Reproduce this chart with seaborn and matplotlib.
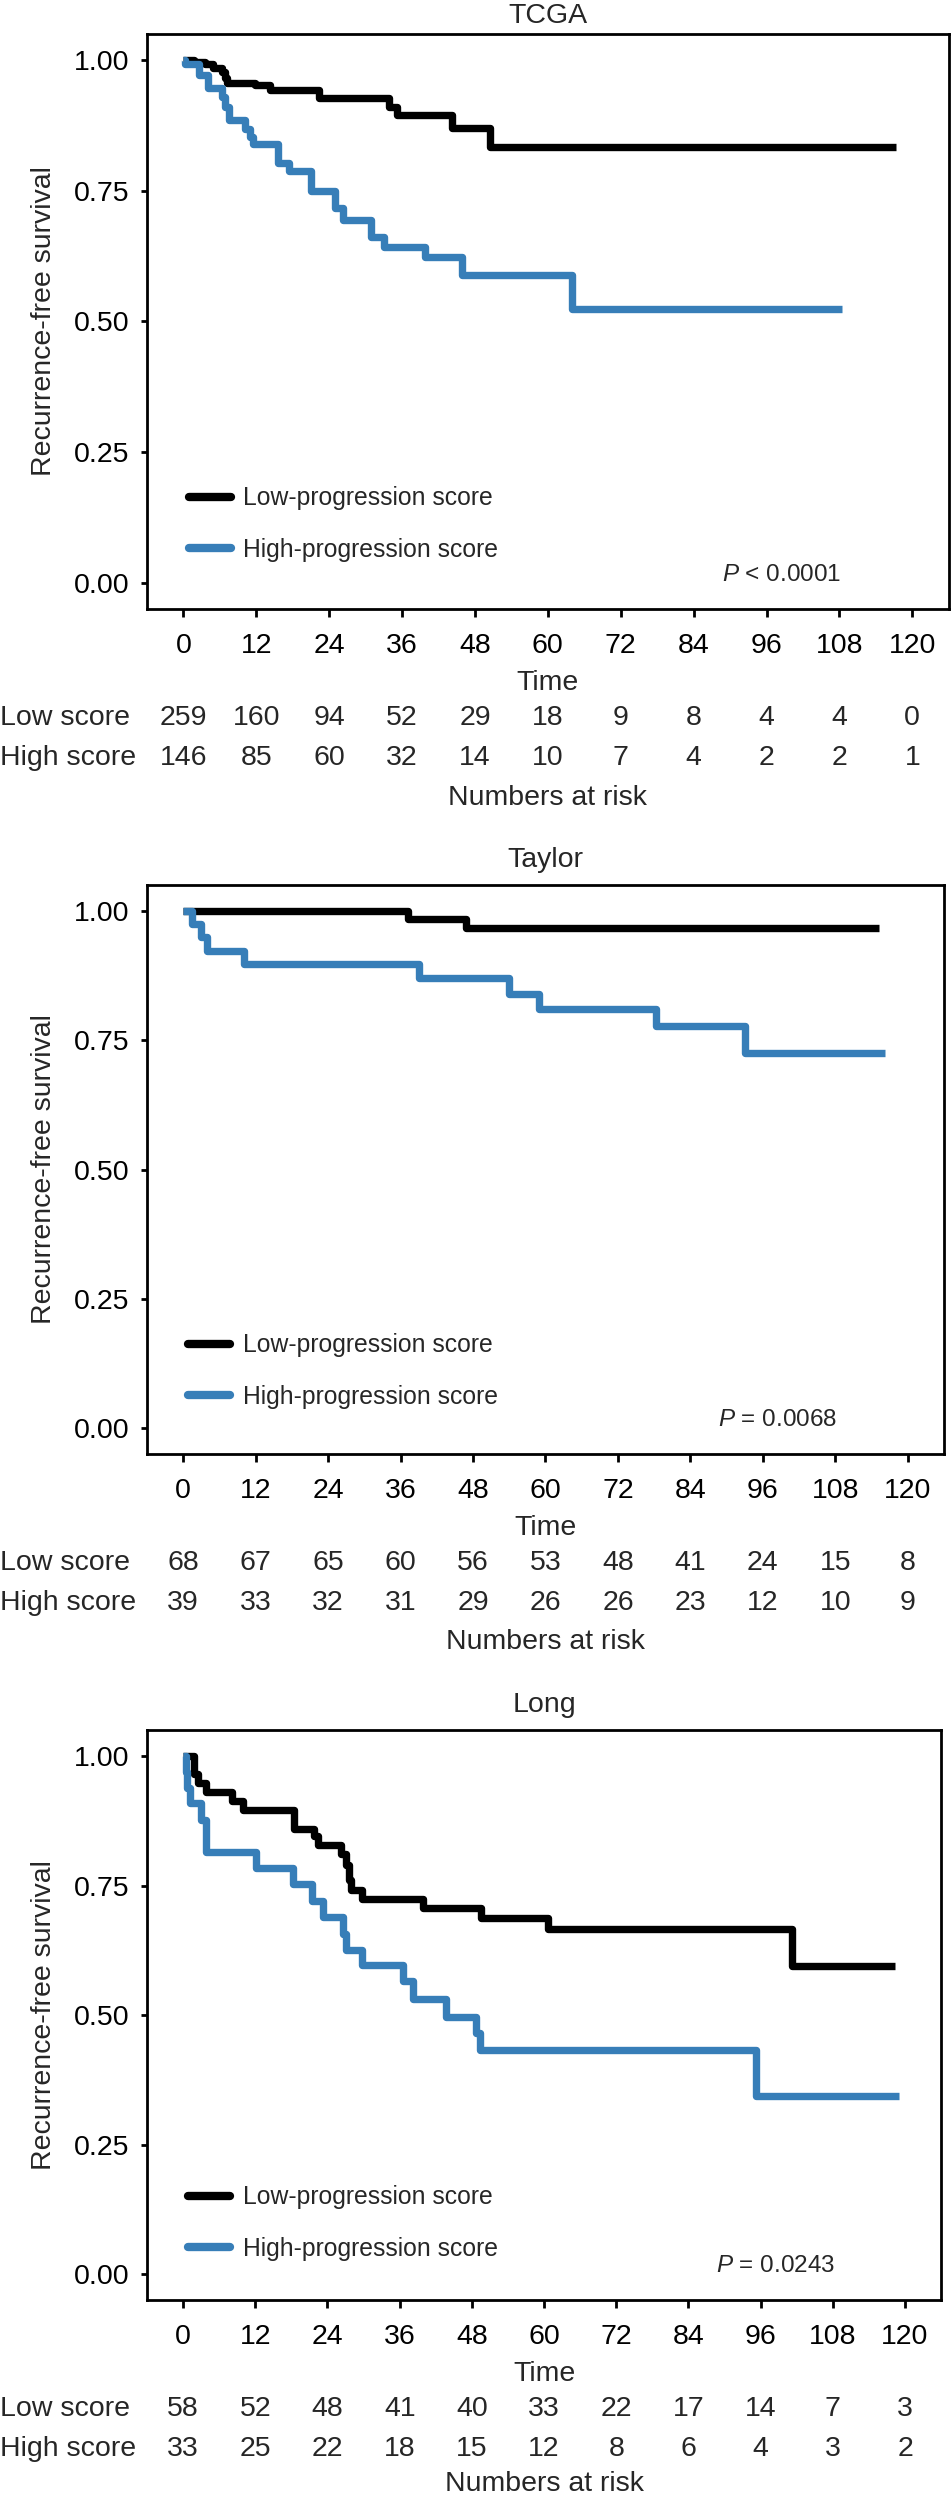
import numpy as np
import pandas as pd
import matplotlib
matplotlib.use("Agg")
from matplotlib import pyplot as plt
from matplotlib import transforms as mtransforms
from matplotlib.lines import Line2D
import seaborn as sns

BLUE = "#377EB8"

# step curves: event time (months) -> survival after it
tcga_low_t = [0, 1.8, 3.6, 4.9, 6.3, 6.8, 7.1, 11.8, 14.3, 22.3, 33.8, 35.2, 44.2, 50.5, 117.4]
tcga_low_s = [1.0, 0.997, 0.993, 0.984, 0.977, 0.966, 0.957, 0.952, 0.943, 0.927, 0.911, 0.894, 0.870, 0.833, 0.833]
tcga_high_t = [0, 0.2, 2.5, 4.1, 6.3, 6.9, 7.5, 10.2, 10.9, 11.5, 15.5, 17.3, 21.0, 25.0, 26.2, 30.8,
               33.0, 39.8, 45.9, 64.0, 108.5]
tcga_high_s = [1.0, 0.993, 0.971, 0.947, 0.930, 0.910, 0.886, 0.868, 0.853, 0.839, 0.804, 0.788, 0.749,
               0.717, 0.694, 0.662, 0.643, 0.624, 0.589, 0.524, 0.524]

taylor_low_t = [0, 37.3, 46.8, 115.2]
taylor_low_s = [1.0, 0.985, 0.968, 0.968]
taylor_high_t = [0, 1.4, 3.0, 3.9, 10.0, 39.0, 53.9, 58.9, 78.3, 93.1, 116.2]
taylor_high_s = [1.0, 0.974, 0.949, 0.923, 0.897, 0.870, 0.839, 0.810, 0.777, 0.726, 0.726]

long_low_t = [0, 1.8, 2.4, 3.8, 8.2, 9.9, 18.5, 21.8, 22.4, 26.2, 27.1, 27.6, 27.9, 29.8, 39.8, 49.5,
              60.6, 101.2, 118.3]
long_low_s = [1.0, 0.966, 0.948, 0.931, 0.914, 0.896, 0.860, 0.845, 0.828, 0.810, 0.790, 0.760, 0.741,
              0.724, 0.707, 0.687, 0.667, 0.594, 0.594]
long_high_t = [0, 0.4, 0.7, 1.1, 2.9, 3.8, 12.1, 18.2, 21.5, 23.2, 26.5, 27.0, 29.8, 36.5, 38.2, 43.7,
               48.7, 49.3, 95.2, 119.0]
long_high_s = [1.0, 0.970, 0.939, 0.909, 0.876, 0.815, 0.784, 0.752, 0.720, 0.690, 0.656, 0.625, 0.597,
               0.565, 0.531, 0.497, 0.465, 0.432, 0.344, 0.344]

risk_times = [0, 12, 24, 36, 48, 60, 72, 84, 96, 108, 120]
tcga_low_risk = [259, 160, 94, 52, 29, 18, 9, 8, 4, 4, 0]
tcga_high_risk = [146, 85, 60, 32, 14, 10, 7, 4, 2, 2, 1]
taylor_low_risk = [68, 67, 65, 60, 56, 53, 48, 41, 24, 15, 8]
taylor_high_risk = [39, 33, 32, 31, 29, 26, 26, 23, 12, 10, 9]
long_low_risk = [58, 52, 48, 41, 40, 33, 22, 17, 14, 7, 3]
long_high_risk = [33, 25, 22, 18, 15, 12, 8, 6, 4, 3, 2]

titles = ["TCGA", "Taylor", "Long"]
p_labels = ["$P$ < 0.0001", "$P$ = 0.0068", "$P$ = 0.0243"]
group_labels = ["Low-progression score", "High-progression score"]

sns.set_style("ticks")
plt.rcParams["font.family"] = ["Liberation Sans", "DejaVu Sans"]
plt.rcParams["mathtext.fontset"] = "custom"
plt.rcParams["mathtext.rm"] = "Liberation Sans"
plt.rcParams["mathtext.it"] = "Liberation Sans:italic"

panels = [
    (tcga_low_t, tcga_low_s, tcga_high_t, tcga_high_s, tcga_low_risk, tcga_high_risk),
    (taylor_low_t, taylor_low_s, taylor_high_t, taylor_high_s, taylor_low_risk, taylor_high_risk),
    (long_low_t, long_low_s, long_high_t, long_high_s, long_low_risk, long_high_risk),
]
# axes boxes in figure fractions [left, bottom, width, height]
boxes = [[0.1546, 0.7558, 0.843, 0.2306],
         [0.1546, 0.4170, 0.838, 0.2281],
         [0.1546, 0.0778, 0.835, 0.2285]]
title_pads = [8, 13, 13]
leg_y = [0.148, 0.146, 0.135]
foot_dy = [189, 188, 184]

fig = plt.figure(figsize=(9.51, 24.94), dpi=100)
FS = 20.5

for i, (lt, ls, ht, hs, lr, hr) in enumerate(panels):
    ax = fig.add_axes(boxes[i])
    df = pd.DataFrame({
        "time": list(lt) + list(ht),
        "surv": list(ls) + list(hs),
        "group": ["Low"] * len(lt) + ["High"] * len(ht),
    })
    sns.lineplot(data=df, x="time", y="surv", hue="group", hue_order=["Low", "High"],
                 palette=["black", BLUE], drawstyle="steps-post", estimator=None, sort=False,
                 linewidth=5.3, legend=False, ax=ax, solid_joinstyle="round", solid_capstyle="butt")

    ax.set_xlim(-6, 126)
    ax.set_ylim(-0.05, 1.05)
    ax.set_xticks(risk_times)
    ax.set_yticks([0, 0.25, 0.5, 0.75, 1.0])
    ax.set_yticklabels(["0.00", "0.25", "0.50", "0.75", "1.00"])
    ax.tick_params(axis="x", length=6, width=2, pad=11, labelsize=FS, colors="black")
    ax.tick_params(axis="y", length=4.5, width=2, pad=8, labelsize=FS, colors="black")
    for sp in ax.spines.values():
        sp.set_linewidth(2)
        sp.set_color("black")
        sp.set_visible(True)

    ax.set_title(titles[i], fontsize=FS, pad=title_pads[i])
    ax.set_xlabel("Time", fontsize=FS, labelpad=8)
    ax.set_ylabel("Recurrence-free survival", fontsize=FS, labelpad=12)

    handles = [Line2D([], [], color="black", lw=6), Line2D([], [], color=BLUE, lw=6)]
    ax.legend(handles, group_labels, loc="center left", bbox_to_anchor=(0.052, leg_y[i]),
              frameon=False, fontsize=17.8, handlelength=1.7, handletextpad=0.5,
              labelspacing=1.1, borderpad=0, borderaxespad=0)

    ax.text(108.3, 0.015, p_labels[i], ha="right", va="center", fontsize=17.5)

    # numbers at risk table under the axis
    base = mtransforms.blended_transform_factory(ax.transData, ax.transAxes)
    left = mtransforms.blended_transform_factory(fig.transFigure, ax.transAxes)
    for row, (name, vals, dy) in enumerate([("Low score", lr, 109), ("High score", hr, 149)]):
        tr = mtransforms.offset_copy(base, fig=fig, y=-dy, units="dots")
        trl = mtransforms.offset_copy(left, fig=fig, y=-dy, units="dots")
        ax.text(0.0, 0, name, transform=trl, ha="left", va="center", fontsize=FS)
        for t, v in zip(risk_times, vals):
            ax.text(t, 0, str(v), transform=tr, ha="center", va="center", fontsize=FS)
    tr = mtransforms.offset_copy(base, fig=fig, y=-foot_dy[i], units="dots")
    ax.text(60, 0, "Numbers at risk", transform=tr, ha="center", va="center", fontsize=FS)

fig.savefig("out.png", dpi=100)
